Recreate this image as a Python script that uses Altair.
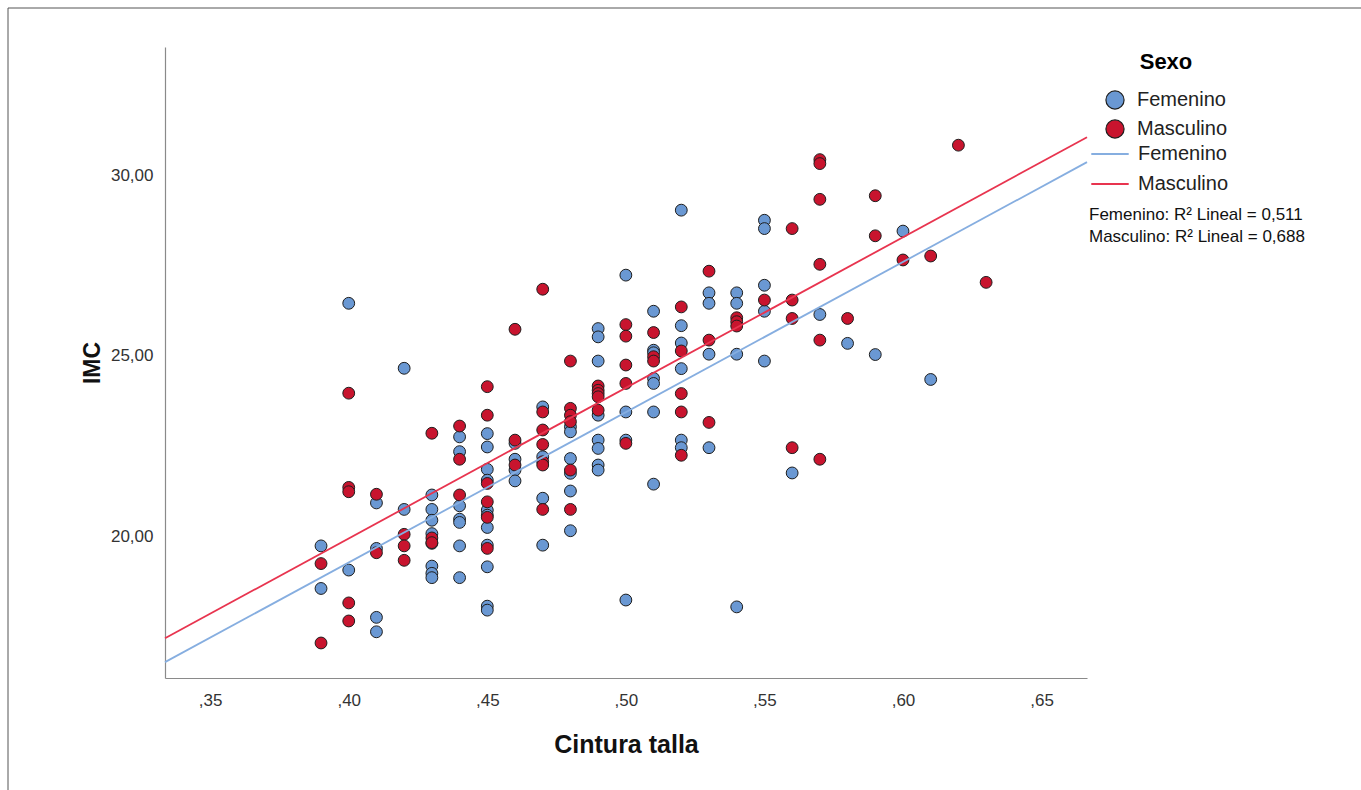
import altair as alt
import pandas as pd

# ---- data (Cintura talla vs IMC, by Sexo) ----
fem_x = [0.39, 0.39,
         0.40, 0.40,
         0.41, 0.41, 0.41, 0.41,
         0.42, 0.42,
         0.43, 0.43, 0.43, 0.43, 0.43, 0.43, 0.43, 0.43,
         0.44, 0.44, 0.44, 0.44, 0.44, 0.44, 0.44,
         0.45, 0.45, 0.45, 0.45, 0.45, 0.45, 0.45, 0.45, 0.45, 0.45, 0.45,
         0.46, 0.46, 0.46, 0.46,
         0.47, 0.47, 0.47, 0.47,
         0.48, 0.48, 0.48, 0.48, 0.48, 0.48,
         0.49, 0.49, 0.49, 0.49, 0.49, 0.49, 0.49, 0.49,
         0.50, 0.50, 0.50, 0.50,
         0.51, 0.51, 0.51, 0.51, 0.51, 0.51, 0.51,
         0.52, 0.52, 0.52, 0.52, 0.52, 0.52,
         0.53, 0.53, 0.53, 0.53,
         0.54, 0.54, 0.54, 0.54,
         0.55, 0.55, 0.55, 0.55, 0.55,
         0.56, 0.57, 0.58, 0.59, 0.60, 0.61]
fem_y = [19.73, 18.55,
         26.45, 19.06,
         20.92, 19.66, 17.75, 17.35,
         24.65, 20.74,
         21.14, 20.74, 20.44, 20.07, 19.80, 19.17, 18.97, 18.85,
         22.75, 22.34, 20.84, 20.47, 20.38, 19.73, 18.85,
         22.84, 22.47, 21.85, 21.55, 20.72, 20.58, 20.24, 19.75, 19.15, 18.06, 17.95,
         22.57, 22.13, 21.83, 21.53,
         23.58, 22.20, 21.05, 19.75,
         23.03, 22.89, 22.15, 21.74, 21.25, 20.15,
         25.75, 25.52, 24.85, 23.35, 22.66, 22.43, 21.97, 21.83,
         27.23, 23.44, 22.66, 18.23,
         26.23, 25.15, 25.08, 24.37, 24.23, 23.44, 21.44,
         29.03, 25.83, 25.35, 24.64, 22.66, 22.45,
         26.74, 26.45, 25.04, 22.45,
         26.74, 26.45, 25.04, 18.04,
         28.75, 28.52, 26.95, 26.23, 24.85,
         21.75, 26.14, 25.34, 25.03, 28.45, 24.34]

masc_x = [0.39, 0.39,
          0.40, 0.40, 0.40, 0.40, 0.40,
          0.41, 0.41,
          0.42, 0.42, 0.42,
          0.43, 0.43, 0.43,
          0.44, 0.44, 0.44,
          0.45, 0.45, 0.45, 0.45, 0.45, 0.45,
          0.46, 0.46, 0.46,
          0.47, 0.47, 0.47, 0.47, 0.47, 0.47, 0.47,
          0.48, 0.48, 0.48, 0.48, 0.48, 0.48,
          0.49, 0.49, 0.49, 0.49, 0.49,
          0.50, 0.50, 0.50, 0.50, 0.50,
          0.51, 0.51, 0.51,
          0.52, 0.52, 0.52, 0.52, 0.52,
          0.53, 0.53, 0.53,
          0.54, 0.54, 0.54,
          0.55,
          0.56, 0.56, 0.56, 0.56,
          0.57, 0.57, 0.57, 0.57, 0.57, 0.57,
          0.58,
          0.59, 0.59,
          0.60, 0.61, 0.62, 0.63]
masc_y = [19.24, 17.04,
          23.96, 21.35, 21.23, 18.15, 17.65,
          21.16, 19.54,
          20.05, 19.73, 19.33,
          22.85, 19.95, 19.82,
          23.05, 22.13, 21.14,
          24.14, 23.35, 21.46, 20.95, 20.52, 19.66,
          25.73, 22.66, 21.97,
          26.84, 23.44, 22.94, 22.54, 22.06, 21.97, 20.74,
          24.85, 23.54, 23.35, 23.17, 21.83, 20.74,
          24.16, 24.04, 23.95, 23.86, 23.49,
          25.86, 25.54, 24.74, 24.23, 22.57,
          25.64, 24.97, 24.85,
          26.35, 25.13, 23.95, 23.44, 22.24,
          27.34, 25.43, 23.15,
          26.05, 25.94, 25.82,
          26.54,
          28.52, 26.54, 26.03, 22.45,
          30.43, 30.32, 29.33, 27.53, 25.43, 22.13,
          26.03,
          29.43, 28.32,
          27.65, 27.76, 30.83, 27.03]

# linear fit lines (value at each end of the x range)
X_DOM = [0.3337, 0.6664]
fem_fit_y = [16.51, 30.36]
masc_fit_y = [17.17, 31.05]

sexo_labels = ["Femenino", "Masculino"]
fit_labels = ["Femenino ", "Masculino "]
point_fill = ["#6A98D3", "#C8142E"]
line_colors = ["#86AEE0", "#E8344F"]
x_ticks = [0.35, 0.40, 0.45, 0.50, 0.55, 0.60, 0.65]
y_ticks = [20, 25, 30]
r2_text = ["Femenino: R\u00b2 Lineal = 0,511", "Masculino: R\u00b2 Lineal = 0,688"]

Y_DOM = [16.07, 33.55]
FONT = "Liberation Sans"

rows = [(x, y, "Femenino") for x, y in zip(fem_x, fem_y)] + \
       [(x, y, "Masculino") for x, y in zip(masc_x, masc_y)]
df = pd.DataFrame(rows, columns=["Cintura", "IMC", "Sexo"])

fit_rows = [(x, y, fit_labels[0]) for x, y in zip(X_DOM, fem_fit_y)] + \
           [(x, y, fit_labels[1]) for x, y in zip(X_DOM, masc_fit_y)]
fit_df = pd.DataFrame(fit_rows, columns=["Cintura", "IMC", "Ajuste"])

xscale = alt.Scale(domain=X_DOM, nice=False, zero=False)
yscale = alt.Scale(domain=Y_DOM, nice=False, zero=False)
xaxis = alt.Axis(title="Cintura talla", values=x_ticks,
                 labelExpr="replace(format(datum.value, '.2f'), '0.', ',')")
yaxis = alt.Axis(title="IMC", values=y_ticks,
                 labelExpr="replace(format(datum.value, '.2f'), '.', ',')")

points = alt.Chart(df).mark_circle(size=140, opacity=1, stroke="#1e1e1e",
                                   strokeWidth=1).encode(
    x=alt.X("Cintura:Q", scale=xscale, axis=xaxis),
    y=alt.Y("IMC:Q", scale=yscale, axis=yaxis),
    fill=alt.Fill("Sexo:N", scale=alt.Scale(domain=sexo_labels, range=point_fill),
                  legend=alt.Legend(title="Sexo", orient="none", legendX=940, legendY=5,
                                    symbolType="circle", symbolSize=330,
                                    symbolStrokeColor="#1e1e1e", symbolStrokeWidth=1.2,
                                    symbolOpacity=1,
                                    titleFontSize=22, titleFontWeight="bold",
                                    titleColor="#000", titleFont=FONT,
                                    titleAnchor="middle", titlePadding=16,
                                    labelFontSize=20, labelFont=FONT, labelColor="#222",
                                    rowPadding=5, labelOffset=12)),
)

lines = alt.Chart(fit_df).mark_line(strokeWidth=1.8).encode(
    x=alt.X("Cintura:Q", scale=xscale, axis=xaxis),
    y=alt.Y("IMC:Q", scale=yscale, axis=yaxis),
    stroke=alt.Stroke("Ajuste:N", scale=alt.Scale(domain=fit_labels, range=line_colors),
                      legend=alt.Legend(title="", orient="none", legendX=925, legendY=87,
                                        symbolType="stroke", symbolSize=1400,
                                        symbolStrokeWidth=2,
                                        labelFontSize=20, labelFont=FONT, labelColor="#222",
                                        rowPadding=-5, labelOffset=8)),
)

note = alt.Chart(pd.DataFrame({"k": [0]})).mark_text(
    text=r2_text, align="left", baseline="top", font=FONT, fontSize=17,
    lineHeight=22, color="#111"
).encode(x=alt.value(924), y=alt.value(160))

frame = alt.Chart(pd.DataFrame({"k": [0]})).mark_rect(
    fillOpacity=0, stroke="#555", strokeWidth=1
).encode(x=alt.value(-157), x2=alt.value(1220), y=alt.value(-39), y2=alt.value(760))

chart = alt.layer(frame, points, lines, note).properties(
    width=922, height=631,
    autosize=alt.AutoSizeParams(type="none"),
    padding={"left": 165, "top": 47, "right": 274, "bottom": 112},
    background="white",
).configure_view(strokeWidth=0).configure_axis(
    grid=False, ticks=False, tickSize=0, domainColor="#8a8a8a", domainWidth=1.2,
    labelFont=FONT, labelFontSize=17, labelColor="#333",
    titleFont=FONT, titleFontSize=23, titleFontWeight="bold", titleColor="#111",
).configure_axisX(labelPadding=14, titlePadding=24, titleFontSize=25).configure_axisY(
    labelPadding=12, titlePadding=6)

chart.save("out.html", embed_options={"renderer": "svg", "actions": False})
